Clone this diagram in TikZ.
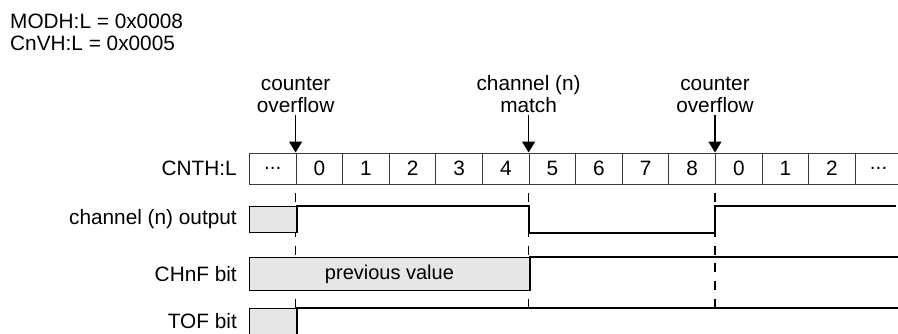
\documentclass[tikz,border=0pt]{standalone}
\usepackage{fontspec}
\setmainfont{Liberation Sans}
\usepackage{xcolor}
\usetikzlibrary{arrows.meta,positioning}
\definecolor{LevelFill}{HTML}{E6E6E6}
\definecolor{CellEdge}{HTML}{3C3C3C}
\newcommand{\celldots}{...}

\begin{document}
\begin{tikzpicture}[x=1pt,y=-1pt,
    every node/.style={font=\fontsize{20.8}{22}\selectfont, inner sep=0pt},
    cell/.style={draw=CellEdge, line width=1pt, minimum width=46.6pt, minimum height=31pt, anchor=west},
    rowlabel/.style={anchor=east},
    event/.style={align=center, anchor=south},
    eventarrow/.style={line width=1.3pt, shorten <=2.5pt, -{Triangle[width=13pt,length=11pt]}},
    wave/.style={line width=2pt, line join=miter},
    prevfill/.style={draw, fill=LevelFill, line width=1.3pt, anchor=north west},
    guide/.style={line width=1.5pt, dash pattern=on 9pt off 8.7pt, dash phase=9.7pt}
]
    \useasboundingbox (0,0) rectangle (898,333);
    \clip (0,0) rectangle (898,333);
    \coordinate (rightend) at (898,0);
    \coordinate (tofy) at (0,308);

    \node[anchor=base west] (modh) at (10,28) {MODH:L = 0x0008};
    \node[anchor=base west] (cnvh) at (10,50) {CnVH:L = 0x0005};

    \foreach \v [count=\i from 0] in {\celldots,0,1,2,3,4,5,6,7,8,0,1,2,\celldots}
        \node[cell] (c\i) at (249+46.6*\i,168.5) {\v};

    \node[rowlabel] (cnth) at (237,168.5) {CNTH:L};
    \node[rowlabel] (outlbl) at (237,219) {channel (n) output};
    \node[rowlabel] (chnf) at (237,274) {CHnF bit};
    \node[rowlabel] (tof) at (237,321) {TOF bit};

    \node[event] (ovf1) at (c1.north west |- 0,112.5) {counter\\overflow};
    \node[event] (match) at (c6.north west |- 0,112.5) {channel (n)\\match};
    \node[event] (ovf2) at (c10.north west |- 0,112.5) {counter\\overflow};
    \draw[eventarrow] (ovf1) -- (c1.north west);
    \draw[eventarrow] (match) -- (c6.north west);
    \draw[eventarrow] (ovf2) -- (c10.north west);

    \foreach \k in {1,6,10}
        \draw[guide] (c\k.south west) -- (c\k.south west |- tofy);

    \node[prevfill, minimum width=46.6pt, minimum height=26pt] (outlow) at (249,206) {};
    \node[prevfill, minimum width=279.6pt, minimum height=33pt, font=\fontsize{20}{22}\selectfont] (prev) at (249,257) {previous value};
    \node[prevfill, minimum width=46.6pt, minimum height=40pt] (toflow) at (249,308) {};

    \draw[wave] (outlow.south east) -- (outlow.north east) -- (c6.south west |- outlow.north)
        -- (c6.south west |- outlow.south) -- (c10.south west |- outlow.south)
        -- (c10.south west |- outlow.north) -- (896,206);
    \draw[wave] (prev.south east) -- (prev.north east) -- (rightend |- prev.north);
    \draw[wave] (toflow.south east) -- (toflow.north east) -- (rightend |- toflow.north);
\end{tikzpicture}
\end{document}
